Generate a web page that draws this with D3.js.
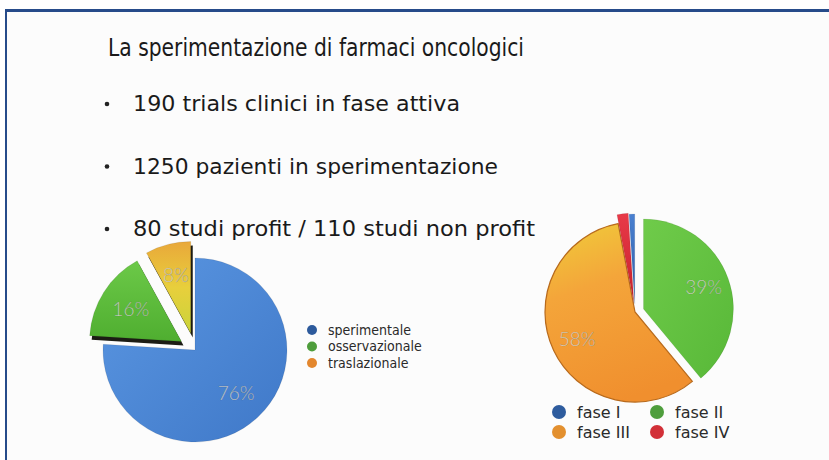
<!DOCTYPE html>
<html>
<head>
<meta charset="utf-8">
<script src="https://cdn.jsdelivr.net/npm/d3@7"></script>
<style>
  html, body { margin: 0; padding: 0; background: #fff; }
  svg { display: block; }
</style>
</head>
<body>
<svg id="chart" width="829" height="460"></svg>
<script>
// slide content
const titleText = "La sperimentazione di farmaci oncologici";
const bullets = [
    "190 trials clinici in fase attiva",
    "1250 pazienti in sperimentazione",
    "80 studi profit / 110 studi non profit"
];

// left pie: tipologia studi
const typeNames = ["sperimentale", "osservazionale", "traslazionale"];
const typeValues = [76, 16, 8];
const typeLabels = ["76%", "16%", "8%"];

// right pie: fasi (clockwise from top: II, III, IV, I)
const phaseNames = ["fase I", "fase II", "fase III", "fase IV"];
const phaseValues = [1, 39, 58, 2];
const phaseLabels = ["", "39%", "58%", ""];
const phaseDrawOrder = ["fase II", "fase III", "fase IV", "fase I"];

const svg = d3.select("#chart");
const W = 829, H = 460;

// gradients
const defs = svg.append("defs");
function linGrad(id, stops, x1, y1, x2, y2) {
    const g = defs.append("linearGradient").attr("id", id)
        .attr("x1", x1).attr("y1", y1).attr("x2", x2).attr("y2", y2);
    stops.forEach(s => g.append("stop").attr("offset", s[0]).attr("stop-color", s[1]));
}
linGrad("gBlue", [[0, "#5b97e2"], [1, "#3f78c8"]], 0, 0, 1, 1);
linGrad("gGreenL", [[0, "#6cc948"], [1, "#4fae30"]], 0, 0, 0, 1);
linGrad("gYellow", [[0, "#e9a83a"], [0.5, "#e8cf3c"], [1, "#c9d43a"]], 0, 0, 0, 1);
linGrad("gGreenR", [[0, "#6fcb4a"], [1, "#58b838"]], 0, 0, 1, 1);
linGrad("gOrange", [[0, "#f0c83a"], [0.35, "#f4a53a"], [1, "#f08f2e"]], 0.2, 0, 0.5, 1);
linGrad("gRed", [[0, "#e83a48"], [1, "#c8202c"]], 0, 0, 0, 1);
linGrad("gBlueR", [[0, "#4a80d0"], [1, "#2e5ea8"]], 0, 0, 0, 1);

// background + frame
svg.append("rect").attr("x", 5).attr("y", 9).attr("width", W - 5).attr("height", H - 9).attr("fill", "#fcfcfc");
svg.append("rect").attr("x", 5).attr("y", 9).attr("width", W - 5).attr("height", 3).attr("fill", "#264b8a");
svg.append("rect").attr("x", 5).attr("y", 9).attr("width", 2).attr("height", H - 9).attr("fill", "#264b8a");

// title
svg.append("text")
    .attr("x", 108).attr("y", 56)
    .attr("font-family", "DejaVu Sans Condensed, sans-serif")
    .attr("font-size", 25)
    .attr("fill", "#1a1a1a")
    .attr("textLength", 416).attr("lengthAdjust", "spacingAndGlyphs")
    .text(titleText);

// bullets
const bulletY = d3.scalePoint().domain(d3.range(bullets.length)).range([111, 236]);
const bulletWidths = [327, 365, 402];
const bl = svg.append("g").attr("font-family", "DejaVu Sans, sans-serif").attr("fill", "#1a1a1a");
bullets.forEach((b, i) => {
    bl.append("circle").attr("cx", 107).attr("cy", bulletY(i) - 7).attr("r", 2.3).attr("fill", "#222");
    bl.append("text").attr("x", 133).attr("y", bulletY(i))
        .attr("font-size", 22)
        .attr("textLength", bulletWidths[i]).attr("lengthAdjust", "spacingAndGlyphs")
        .text(b);
});

const labelFont = "Lato, Open Sans, sans-serif";

// ---------- left pie ----------
const leftC = [195, 350], leftR = 92;
const leftFills = ["url(#gBlue)", "url(#gGreenL)", "url(#gYellow)"];
const leftExplode = [0, 16, 17];
const leftPie = d3.pie().sort(null)(typeValues);
const leftArc = d3.arc().innerRadius(0).outerRadius(leftR);
const leftLabelArc = d3.arc().innerRadius(60).outerRadius(60);

const lg = svg.append("g").attr("transform", `translate(${leftC})`);
const lSlices = lg.selectAll("g.slice").data(leftPie).enter().append("g")
    .attr("class", "slice")
    .attr("transform", (d, i) => {
        const a = (d.startAngle + d.endAngle) / 2;
        return `translate(${Math.sin(a) * leftExplode[i]},${-Math.cos(a) * leftExplode[i]})`;
    });
// dark thickness edge for exploded slices
lSlices.filter((d, i) => i > 0).append("path")
    .attr("d", leftArc)
    .attr("transform", "translate(2,4)")
    .attr("fill", "#1c1c14");
lSlices.append("path")
    .attr("d", leftArc)
    .attr("fill", (d, i) => leftFills[i])
    .attr("stroke", "rgba(0,0,0,0.15)")
    .attr("stroke-width", 0.6);
lSlices.append("text")
    .attr("transform", d => `translate(${leftLabelArc.centroid(d)})`)
    .attr("text-anchor", "middle").attr("dy", "0.35em")
    .attr("font-family", labelFont).attr("font-weight", 300)
    .attr("font-size", 19)
    .attr("fill", "rgba(245,245,240,0.85)")
    .attr("stroke", "rgba(0,0,0,0.22)").attr("stroke-width", 0.6)
    .text((d, i) => typeLabels[i]);

// left legend
const leftLegColors = ["#2d5a9c", "#4e9d3c", "#e3872e"];
const legY = d3.scalePoint().domain(typeNames).range([330, 363]);
const leg1 = svg.append("g").attr("font-family", "DejaVu Sans Condensed, sans-serif").attr("font-size", 14).attr("fill", "#2a2a2a");
typeNames.forEach((n, i) => {
    leg1.append("circle").attr("cx", 312).attr("cy", legY(n)).attr("r", 5).attr("fill", leftLegColors[i]);
    leg1.append("text").attr("x", 328).attr("y", legY(n)).attr("dy", "0.35em").text(n);
});

// ---------- right pie ----------
const rightC = [635, 312], rightR = 90;
const phaseFill = { "fase I": "url(#gBlueR)", "fase II": "url(#gGreenR)", "fase III": "url(#gOrange)", "fase IV": "url(#gRed)" };
const phaseExplode = { "fase I": 8, "fase II": 9, "fase III": 0, "fase IV": 9 };
const rightData = phaseDrawOrder.map(n => ({ name: n, value: phaseValues[phaseNames.indexOf(n)], label: phaseLabels[phaseNames.indexOf(n)] }));
const rightPie = d3.pie().sort(null).value(d => d.value)(rightData);
const rightArc = d3.arc().innerRadius(0).outerRadius(rightR);
const rightLabelArc = d3.arc().innerRadius(64).outerRadius(64);

const rg = svg.append("g").attr("transform", `translate(${rightC})`);
const rSlices = rg.selectAll("g.slice").data(rightPie).enter().append("g")
    .attr("class", "slice")
    .attr("transform", d => {
        const a = (d.startAngle + d.endAngle) / 2, e = phaseExplode[d.data.name];
        return `translate(${Math.sin(a) * e},${-Math.cos(a) * e})`;
    });
rSlices.append("path")
    .attr("d", rightArc)
    .attr("fill", d => phaseFill[d.data.name])
    .attr("stroke", d => d.data.name === "fase III" ? "#b86a1c" : "rgba(0,0,0,0.12)")
    .attr("stroke-width", d => d.data.name === "fase III" ? 1.2 : 0.6);
rSlices.append("text")
    .attr("transform", d => `translate(${rightLabelArc.centroid(d)})`)
    .attr("text-anchor", "middle").attr("dy", "0.35em")
    .attr("font-family", labelFont).attr("font-weight", 300)
    .attr("font-size", 19)
    .attr("fill", "rgba(250,250,240,0.85)")
    .attr("stroke", "rgba(0,0,0,0.22)").attr("stroke-width", 0.6)
    .text(d => d.data.label);

// right legend (2 x 2)
const phaseLegColors = ["#2e5c9e", "#4f9e3d", "#e3902f", "#d23038"];
const colX = d3.scalePoint().domain([0, 1]).range([559, 657]);
const rowY = d3.scalePoint().domain([0, 1]).range([412, 432]);
const leg2 = svg.append("g").attr("font-family", "DejaVu Sans, sans-serif").attr("font-size", 16).attr("fill", "#2a2a2a");
phaseNames.forEach((n, i) => {
    const cx = colX(i % 2), cy = rowY(Math.floor(i / 2));
    leg2.append("circle").attr("cx", cx).attr("cy", cy).attr("r", 7).attr("fill", phaseLegColors[i]);
    leg2.append("text").attr("x", cx + 18).attr("y", cy).attr("dy", "0.35em").text(n);
});
</script>
</body>
</html>
